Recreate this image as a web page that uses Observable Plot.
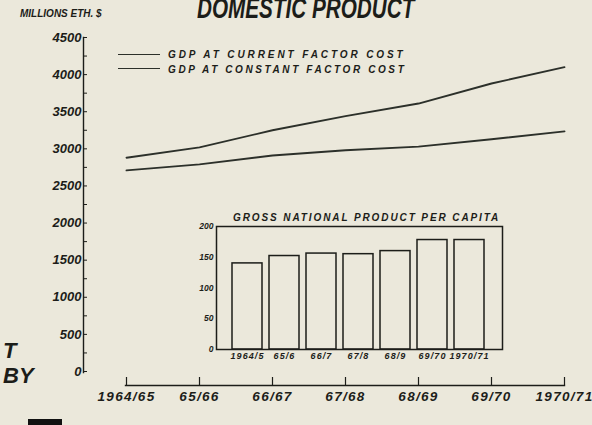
<!DOCTYPE html>
<html><head><meta charset="utf-8">
<script src="https://cdn.jsdelivr.net/npm/d3@7"></script>
<script src="https://cdn.jsdelivr.net/npm/@observablehq/plot@0.6"></script>
<style>
html,body{margin:0;padding:0;background:#ebe8db;overflow:hidden;}
#wrap{position:relative;width:592px;height:425px;overflow:hidden;font-family:"Liberation Sans",Arimo,sans-serif;font-weight:bold;font-style:italic;color:#1c1d19;}
#wrap svg{position:absolute;left:0;top:0;}
.t{position:absolute;white-space:nowrap;line-height:1;}
.ln{position:absolute;height:1.6px;background:#2c302a;}
#main g[aria-label="x-axis tick label"] text{letter-spacing:1.3px;}
#inset g[aria-label="x-axis tick label"] text{letter-spacing:1.1px;}
</style></head><body><div id="wrap"></div>
<script>
// ---- main chart data (millions Eth. $) ----
const years = ["1964/65","65/66","66/67","67/68","68/69","69/70","1970/71"];
const gdpCurrent  = [2880, 3020, 3250, 3440, 3610, 3880, 4100];
const gdpConstant = [2710, 2790, 2910, 2980, 3030, 3130, 3235];
const yTicks = [0,500,1000,1500,2000,2500,3000,3500,4000,4500];
const yMinorTicks = [0,250,500,750,1000,1250,1500,1750,2000,2250,2500,2750,3000,3250,3500,3750,4000,4250,4500];
const seriesNames = ["GDP AT CURRENT FACTOR COST","GDP AT CONSTANT FACTOR COST"];
// ---- inset data ----
const insetYears = ["1964/5","65/6","66/7","67/8","68/9","69/70","1970/71"];
const gnpPerCapita = [140, 152, 156, 155, 160, 178, 178];
const insetTicks = [0,50,100,150,200];

const ink = "#1c1d19", lineInk = "#2c302a", paper = "#ebe8db";
const font = '"Liberation Sans", Arimo, sans-serif';

const lineData = [
  ...years.map((y,i)=>({year:y, value:gdpCurrent[i], series:seriesNames[0]})),
  ...years.map((y,i)=>({year:y, value:gdpConstant[i], series:seriesNames[1]}))
];

const main = Plot.plot({
  width:592, height:425,
  marginLeft:83, marginRight:26, marginTop:37, marginBottom:40,
  style:{background:"transparent", fontFamily:font, fontWeight:"bold", fontStyle:"italic", color:ink},
  x:{type:"point", domain:years, range:[125,564], padding:0},
  y:{domain:[0,4500], range:[371,37]},
  marks:[
    Plot.frame({anchor:"left", insetBottom:13, stroke:ink, strokeWidth:1.4}),
    Plot.frame({anchor:"bottom", insetLeft:42, insetRight:2, stroke:ink, strokeWidth:1.4}),
    Plot.tickX(years, {x:d=>d, insetTop:340, stroke:ink, strokeWidth:1.2}),
    Plot.tickY(yMinorTicks, {y:d=>d, insetRight:479, stroke:ink, strokeWidth:1}),
    Plot.axisY({ticks:yTicks, tickSize:0, tickPadding:2, fontSize:13, tickFormat:d=>String(d), fill:ink, label:null}),
    Plot.axisX({tickSize:0, tickPadding:6, fontSize:13.5, fill:ink, label:null}),
    Plot.line(lineData, {x:"year", y:"value", z:"series", stroke:lineInk, strokeWidth:1.9})
  ]
});
main.id = "main";

const insetData = insetYears.map((y,i)=>({year:y, value:gnpPerCapita[i]}));
const inset = Plot.plot({
  width:592, height:425,
  marginLeft:216, marginRight:90, marginTop:226, marginBottom:76,
  style:{background:"transparent", fontFamily:font, fontWeight:"bold", fontStyle:"italic", color:ink},
  x:{type:"band", domain:insetYears, range:[232,485], paddingInner:0.18, paddingOuter:0},
  y:{domain:[0,200]},
  marks:[
    Plot.barY(insetData, {x:"year", y:"value", fill:paper, stroke:ink, strokeWidth:1.5}),
    Plot.frame({stroke:ink, strokeWidth:1.5}),
    Plot.axisY({ticks:insetTicks, tickSize:0, tickPadding:3, fontSize:8.5, fill:ink, label:null}),
    Plot.axisX({tickSize:0, tickPadding:3, fontSize:9, fill:ink, label:null})
  ]
});
inset.id = "inset";

const wrap = document.getElementById("wrap");
wrap.appendChild(main);
wrap.appendChild(inset);

function txt(s, left, top, size, extra){
  const d = document.createElement("div");
  d.className = "t"; d.textContent = s;
  d.style.left = left+"px"; d.style.top = top+"px"; d.style.fontSize = size+"px";
  if (extra) Object.assign(d.style, extra);
  wrap.appendChild(d); return d;
}
function hline(left, top, w){
  const d = document.createElement("div");
  d.className = "ln"; d.style.left = left+"px"; d.style.top = top+"px"; d.style.width = w+"px";
  wrap.appendChild(d);
}
// title (cut at top edge of the photo)
txt("DOMESTIC PRODUCT", 197, -7.5, 30, {transform:"scaleX(0.69)", transformOrigin:"0 0"});
// unit label
txt("MILLIONS ETH. $", 20, 9, 10, {letterSpacing:"0px"});
// legend
hline(118, 53.5, 42); hline(118, 67.5, 42);
txt(seriesNames[0], 168, 50, 10, {letterSpacing:"2.9px"});
txt(seriesNames[1], 168, 65, 10, {letterSpacing:"2.6px"});
// inset title
txt("GROSS NATIONAL PRODUCT PER CAPITA", 233, 213, 10, {letterSpacing:"1.9px"});
// cut-off text at left edge
txt("T", 3, 339.5, 22);
txt("BY", 3, 364.5, 22);
const blk = document.createElement("div");
Object.assign(blk.style, {position:"absolute", left:"28px", top:"419px", width:"34px", height:"8px", background:"#111"});
wrap.appendChild(blk);
</script></body></html>
